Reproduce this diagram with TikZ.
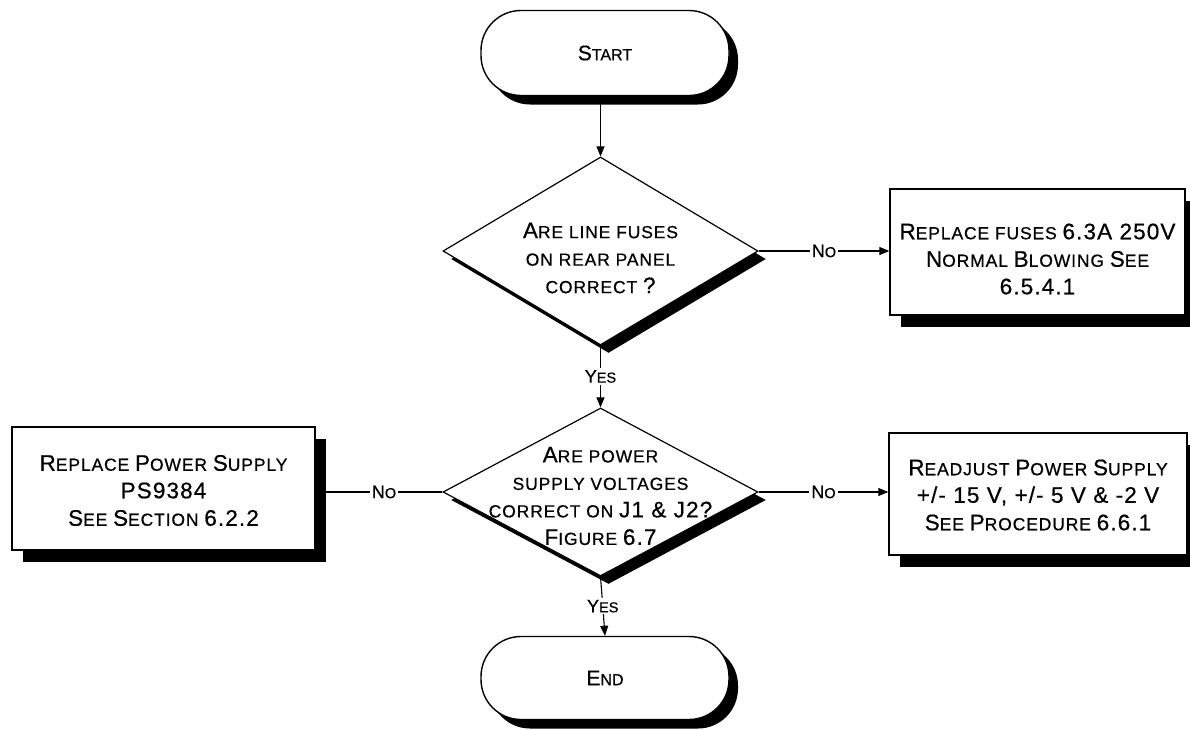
\documentclass[tikz,border=0pt]{standalone}
\usepackage{fontspec}
\setmainfont{Liberation Sans}[FakeBold=0.6]
\usetikzlibrary{shapes.geometric,shadows,arrows.meta}
\newcommand\B[1]{{\fontsize{22.5}{22.5}\selectfont #1}}
\newcommand\T[1]{{\fontsize{21}{21}\selectfont #1}}
\newcommand\M[1]{{\fontsize{18}{18}\selectfont #1}}
\begin{document}
\begin{tikzpicture}[x=1pt,y=-1pt,
  every node/.style={font=\fontsize{17.5}{27.5}\selectfont\addfontfeatures{LetterSpace=5}},
  term/.style={draw, line width=1.4pt, fill=white, rounded corners=40pt,
    minimum width=248pt, minimum height=85pt, inner sep=0pt,
    font=\fontsize{16}{16}\selectfont,
    drop shadow={shadow xshift=9pt, shadow yshift=-9pt, fill=black, opacity=1}},
  dec/.style={draw, diamond, line width=1.2pt, fill=white,
    minimum width=315pt, inner sep=0pt,
    drop shadow={shadow xshift=8pt, shadow yshift=-8pt, fill=black, opacity=1}},
  dectext/.style={align=center, inner sep=0pt},
  act/.style={draw, rectangle, line width=1.3pt, fill=white, inner sep=0pt,
    drop shadow={shadow xshift=11pt, shadow yshift=-12pt, fill=black, opacity=1}},
  acttext/.style={align=center, inner sep=0pt},
  conn/.style={line width=1.1pt},
  arr/.style={conn, -{Triangle[length=10pt,width=8pt]}},
  lab/.style={fill=white, inner sep=2pt, font=\fontsize{14.5}{14.5}\selectfont}
]
\useasboundingbox (0,0) rectangle (1190,729);

% terminators
\node[term] (start) at (605,53) {\T{S}TART};
\node[term, minimum height=83pt] (end) at (605,678) {\T{E}ND};

% decisions
\node[dec, minimum height=188pt] (d1) at (600.5,251) {};
\node[dectext] (d1t) at (600.5,258) {\B{A}RE LINE FUSES\\ON REAR PANEL\\CORRECT \B{?}};
\node[dec, minimum height=168pt] (d2) at (600.5,492) {};
\node[dectext] (d2t) at (600.5,496) {\B{A}RE POWER\\SUPPLY VOLTAGES\\CORRECT ON \B{J1 \& J2?}\\\B{F}IGURE \B{6.7}};

% actions
\node[act, minimum width=295pt, minimum height=126pt] (box1) at (1037.5,252) {};
\node[acttext] (box1t) at ([yshift=-7pt]box1.center)
  {\B{R}EPLACE FUSES \B{6.3A 250V}\\\B{N}ORMAL \B{B}LOWING \B{S}EE\\\B{6.5.4.1}};
\node[act, minimum width=303pt, minimum height=123pt] (box2) at (163.5,488.5) {};
\node[acttext] (box2t) at ([yshift=-2pt]box2.center)
  {\B{R}EPLACE \B{P}OWER \B{S}UPPLY\\\B{PS9384}\\\B{S}EE \B{S}ECTION \B{6.2.2}};
\node[act, minimum width=298pt, minimum height=122pt] (box3) at (1038,494) {};
\node[acttext] (box3t) at ([yshift=-1pt]box3.center)
  {\B{R}EADJUST \B{P}OWER \B{S}UPPLY\\\B{+/- 15 V, +/- 5 V \& -2 V}\\\B{S}EE \B{P}ROCEDURE \B{6.6.1}};

% connectors
\draw[arr] (start.south -| d1.north) -- (d1.north);
\draw[arr] (d1.east) -- node[lab] (no1) {\M{N}O} (d1.east -| box1.west);
\draw[arr] (d1.south) -- node[lab] (yes1) {\M{Y}ES} (d2.north);
\draw[arr] (d2.east) -- node[lab] (no3) {\M{N}O} (d2.east -| box3.west);
\draw[conn] (d2.west) -- node[lab] (no2) {\M{N}O} ([xshift=10pt]d2.west -| box2.east);
\draw[arr] (d2.south) -- node[lab] (yes2) {\M{Y}ES} (end.north);
\end{tikzpicture}
\end{document}
